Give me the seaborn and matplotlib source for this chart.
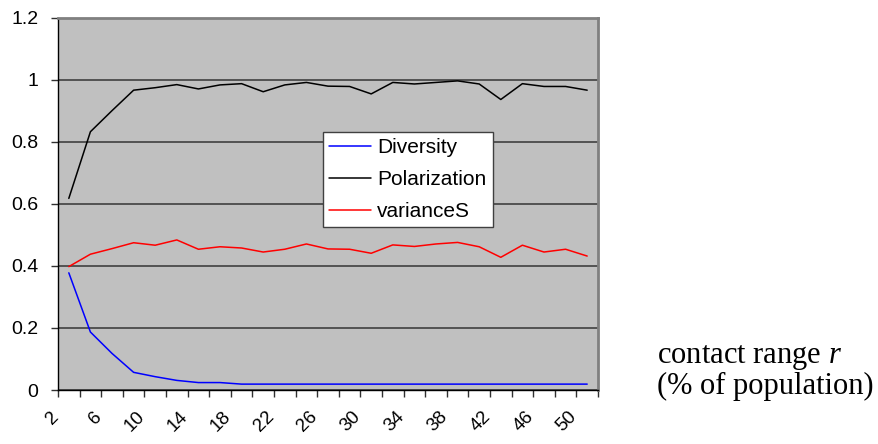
import numpy as np
import pandas as pd
import matplotlib.pyplot as plt
import matplotlib.transforms as mtransforms
import seaborn as sns

# contact range r (% of population)
contact_range = list(range(2, 51, 2))

diversity = [0.378, 0.187, 0.118, 0.057, 0.043, 0.031, 0.024, 0.024, 0.019, 0.019,
             0.019, 0.019, 0.019, 0.019, 0.019, 0.019, 0.019, 0.019, 0.019, 0.019,
             0.019, 0.019, 0.019, 0.019, 0.019]
polarization = [0.618, 0.833, 0.901, 0.967, 0.975, 0.985, 0.971, 0.984, 0.988, 0.962,
                0.984, 0.992, 0.980, 0.979, 0.955, 0.992, 0.987, 0.992, 0.997, 0.987,
                0.937, 0.988, 0.979, 0.979, 0.967]
variance_s = [0.398, 0.438, 0.456, 0.475, 0.467, 0.484, 0.454, 0.462, 0.458, 0.445,
              0.454, 0.471, 0.455, 0.454, 0.441, 0.468, 0.463, 0.471, 0.476, 0.462,
              0.428, 0.467, 0.445, 0.454, 0.432]

series_names = ["Diversity", "Polarization", "varianceS"]
series_colors = ["#0000FF", "#000000", "#FF0000"]

pos = np.arange(len(contact_range))
df = pd.concat([
    pd.DataFrame({"pos": pos, "value": vals, "serie": name})
    for name, vals in zip(series_names, [diversity, polarization, variance_s])
])

sns.set_theme(style="white")
plt.rcParams["font.family"] = ["Liberation Sans", "DejaVu Sans"]
plt.rcParams["text.color"] = "black"
plt.rcParams["xtick.color"] = "black"
plt.rcParams["ytick.color"] = "black"
plt.rcParams["mathtext.fontset"] = "custom"
plt.rcParams["mathtext.it"] = "Liberation Serif:italic"
plt.rcParams["mathtext.rm"] = "Liberation Serif"

fig = plt.figure(figsize=(8.79, 4.44), dpi=100)
ax = fig.add_axes([0.066, 0.1216, 0.6143, 0.838])
ax.set_facecolor("#C0C0C0")

sns.lineplot(data=df, x="pos", y="value", hue="serie", hue_order=series_names,
             palette=series_colors, linewidth=1.1, ax=ax)

ax.set_xlim(-0.5, len(contact_range) - 0.5)
ax.set_ylim(0, 1.2)
ax.set_yticks(np.arange(0, 1.21, 0.2))
ax.set_yticklabels(["0", "0.2", "0.4", "0.6", "0.8", "1", "1.2"])
ax.yaxis.grid(True, color="#404040", linewidth=1.2)
ax.set_axisbelow(True)

# ticks at category boundaries, labels at every other category centre
ax.set_xticks(np.arange(-0.5, len(contact_range), 1.0))
ax.set_xticklabels([])
ax.set_xticks(pos[::2], minor=True)
ax.set_xticklabels([str(c) for c in contact_range[::2]], minor=True,
                   rotation=45, ha="right")
ax.tick_params(axis="x", which="major", length=5, width=1, color="#303030",
               bottom=True, direction="out")
ax.tick_params(axis="x", which="minor", length=0, pad=13, labelsize=13.5)
ax.tick_params(axis="y", length=5, width=1, color="#303030", left=True,
               direction="out", pad=9, labelsize=14)
offset = mtransforms.ScaledTranslation(-5 / 72, 0, fig.dpi_scale_trans)
for lab in ax.get_xticklabels(minor=True):
    lab.set_transform(lab.get_transform() + offset)

for side in ["left", "bottom"]:
    ax.spines[side].set_color("black")
    ax.spines[side].set_linewidth(1.0)
for side in ["top", "right"]:
    ax.spines[side].set_color("#808080")
    ax.spines[side].set_linewidth(2.0)

ax.set_xlabel("")
ax.set_ylabel("")

handles, labels = ax.get_legend_handles_labels()
leg = ax.legend(handles, labels, loc="upper left", bbox_to_anchor=(0.491, 0.694),
                fontsize=15, frameon=True, fancybox=False, framealpha=1,
                edgecolor="#404040", facecolor="white", handlelength=2.0,
                handletextpad=0.3, labelspacing=0.62, borderpad=0.3,
                borderaxespad=0)
leg.get_frame().set_linewidth(1.0)

fig.text(0.747, 0.163, "contact range $\\mathit{r}$\n(% of population)",
         fontsize=22, family=["Liberation Serif", "DejaVu Serif"],
         ha="left", va="center", linespacing=1.0)

plt.savefig("out.png", dpi=100)
